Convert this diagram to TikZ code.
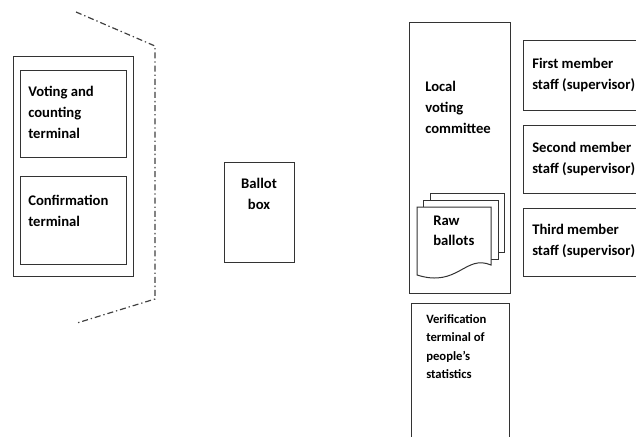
\documentclass[tikz,border=0pt]{standalone}
\usepackage{fontspec}
\setmainfont{Carlito}
\begin{document}
\begin{tikzpicture}[x=0.75pt,y=-0.75pt,
  box/.style={draw=black!80, line width=0.75pt},
  page/.style={draw=black!80, line width=0.75pt, fill=white},
  border/.style={draw=black!75, line width=0.9pt, dash pattern=on 4.5pt off 2.2pt on 1pt off 2.2pt},
  lbl/.style={font=\bfseries\fontsize{11}{15.75}\selectfont, align=left, anchor=north west, inner sep=0pt},
  slbl/.style={font=\bfseries\fontsize{9.5}{13.9}\selectfont, align=left, anchor=north west, inner sep=0pt}]
\useasboundingbox (0,0) rectangle (636,436);
\begin{scope}
\clip (0,0) rectangle (636,436);
% left group
\draw[box] (13,56) rectangle (133,276);
\draw[box] (20,70) rectangle (126,157);
\draw[box] (20,176) rectangle (126,264);
\node[lbl] (vct) at (28,86) {Voting and\\counting\\terminal};
\node[lbl] (conf) at (28,195) {Confirmation\\terminal};
% dash-dot boundary
\coordinate (b1) at (76,12);
\coordinate (b2) at (155,46);
\coordinate (b3) at (155,299);
\coordinate (b4) at (77,323);
\draw[border] (b1) -- (b2) -- (b3) -- (b4);
% ballot box
\draw[box] (224,162) rectangle (294,262);
\node[lbl, align=center, anchor=north] (ballot) at (259,178) {Ballot\\box};
% local voting committee
\draw[box] (409,22) rectangle (510,293);
\node[lbl] (lvc) at (425,81) {Local\\voting\\committee};
% raw ballots stack
\draw[page] (430,193) rectangle (504,252);
\draw[page] (423,200) rectangle (498,259);
\draw[page] (417,207) -- (491,207) -- (491,265)
  .. controls (465,254) and (458,288) .. (417,275) -- cycle;
\node[lbl, font=\bfseries\fontsize{11}{14.5}\selectfont] (raw) at (433,216) {Raw\\ballots};
% verification terminal
\draw[box] (411,303) rectangle (509,450);
\node[slbl] (ver) at (426,314) {Verification\\terminal of\\people’s\\statistics};
% supervisors
\draw[box] (523,40) rectangle (660,110);
\draw[box] (523,125) rectangle (660,193);
\draw[box] (523,208) rectangle (660,276);
\node[lbl] (m1) at (532,58) {First member\\staff (supervisor)};
\node[lbl] (m2) at (532,142) {Second member\\staff (supervisor)};
\node[lbl] (m3) at (532,224) {Third member\\staff (supervisor)};
\end{scope}
\end{tikzpicture}
\end{document}
